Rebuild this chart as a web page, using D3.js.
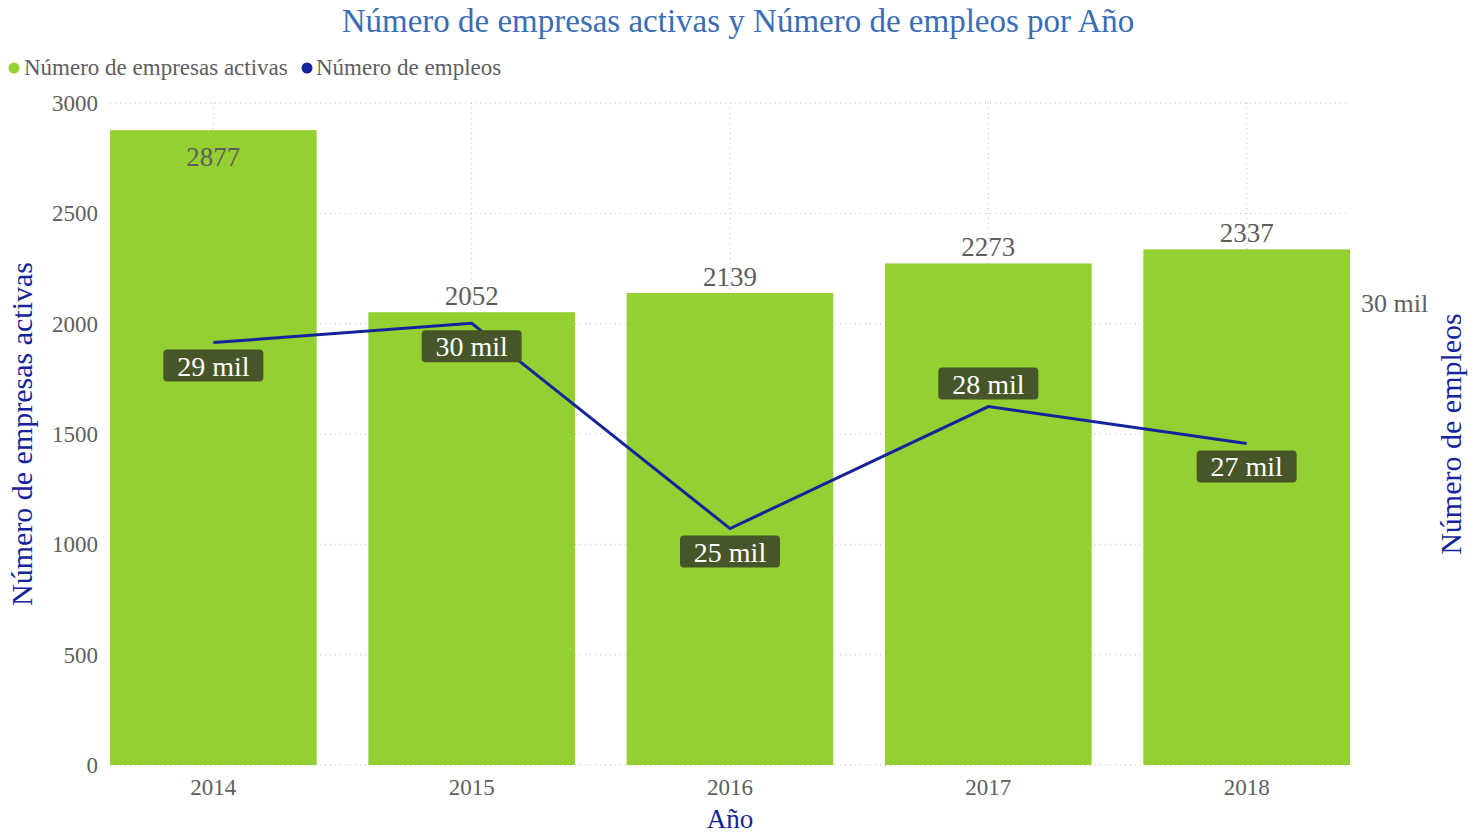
<!DOCTYPE html>
<html>
<head>
<meta charset="utf-8">
<script src="https://cdn.jsdelivr.net/npm/d3@7"></script>
<style>
  body { margin: 0; background: #fff; }
  svg text { font-family: "Liberation Serif", "DejaVu Serif", serif; }
</style>
</head>
<body>
<svg id="chart" width="1481" height="835"></svg>
<script>
// data
var years = ["2014", "2015", "2016", "2017", "2018"];
var empresas = [2877, 2052, 2139, 2273, 2337];
var empleos = [29130, 29560, 25000, 27710, 26890];
var leftTicks = [0, 500, 1000, 1500, 2000, 2500, 3000];
var rightTicks = [30000];

var svg = d3.select("#chart");
// plot box (window.top is taken, hence the names)
var pLeft = 110, pRight = 1350, pTop = 103, pBottom = 765;

var x = d3.scaleBand().domain(years).range([pLeft, pRight]).paddingInner(0.2).paddingOuter(0);
var y = d3.scaleLinear().domain([0, 3000]).range([pBottom, pTop]);
var y2 = d3.scaleLinear().domain([19750, 34450]).range([pBottom, pTop]);

var green = "#94d031", blue = "#15249d", grey = "#605e5c";
var milFmt = function(d){ return Math.round(d/1000) + " mil"; };

// title
svg.append("text").attr("x", 738).attr("y", 32).attr("text-anchor", "middle")
  .attr("font-size", 33).attr("fill", "#3a6db5")
  .text("Número de empresas activas y Número de empleos por Año");

// legend
var legend = [["Número de empresas activas", green, 14, 24], ["Número de empleos", blue, 307, 316]];
legend.forEach(function(l) {
  svg.append("circle").attr("cx", l[2]).attr("cy", 68).attr("r", 5.5).attr("fill", l[1]);
  svg.append("text").attr("x", l[3]).attr("y", 75).attr("font-size", 23).attr("fill", grey).text(l[0]);
});

// gridlines
svg.append("g").selectAll("line").data(leftTicks).join("line")
  .attr("x1", pLeft).attr("x2", pRight).attr("y1", function(d){ return y(d); }).attr("y2", function(d){ return y(d); })
  .attr("stroke", "#bdbdbd").attr("stroke-width", 1).attr("stroke-dasharray", "1,4");
svg.append("g").selectAll("line").data(years).join("line")
  .attr("x1", function(d){ return x(d) + x.bandwidth()/2; }).attr("x2", function(d){ return x(d) + x.bandwidth()/2; })
  .attr("y1", pTop).attr("y2", pBottom)
  .attr("stroke", "#bdbdbd").attr("stroke-width", 1).attr("stroke-dasharray", "1,4");

// left axis
var yAxis = d3.axisLeft(y).tickValues(leftTicks).tickSize(0).tickPadding(12).tickFormat(d3.format("d"));
var gy = svg.append("g").attr("transform", "translate(" + pLeft + ",0)").call(yAxis);
gy.select(".domain").remove();
gy.selectAll("text").attr("font-size", 23).attr("fill", grey).attr("font-family", "Liberation Serif");

// right axis
var yAxis2 = d3.axisRight(y2).tickValues(rightTicks).tickSize(0).tickPadding(11).tickFormat(milFmt);
var gy2 = svg.append("g").attr("transform", "translate(" + pRight + ",0)").call(yAxis2);
gy2.select(".domain").remove();
gy2.selectAll("text").attr("font-size", 26).attr("fill", grey).attr("font-family", "Liberation Serif");

// x axis
var xAxis = d3.axisBottom(x).tickSize(0).tickPadding(14);
var gx = svg.append("g").attr("transform", "translate(0," + pBottom + ")").call(xAxis);
gx.select(".domain").remove();
gx.selectAll("text").attr("font-size", 23).attr("fill", grey).attr("font-family", "Liberation Serif");

// axis titles
svg.append("text").attr("transform", "translate(32,434) rotate(-90)").attr("text-anchor", "middle")
  .attr("font-size", 30).attr("fill", blue).text("Número de empresas activas");
svg.append("text").attr("transform", "translate(1461,434) rotate(-90)").attr("text-anchor", "middle")
  .attr("font-size", 30).attr("fill", blue).text("Número de empleos");
svg.append("text").attr("x", 730).attr("y", 828).attr("text-anchor", "middle")
  .attr("font-size", 27).attr("fill", blue).text("Año");

// bars
svg.append("g").selectAll("rect").data(years).join("rect")
  .attr("x", function(d){ return x(d); })
  .attr("y", function(d, i){ return y(empresas[i]); })
  .attr("width", x.bandwidth())
  .attr("height", function(d, i){ return pBottom - y(empresas[i]); })
  .attr("fill", green);

// bar labels (inside when there is no room above)
svg.append("g").selectAll("text").data(years).join("text")
  .attr("x", function(d){ return x(d) + x.bandwidth()/2; })
  .attr("y", function(d, i){
    var t = y(empresas[i]);
    return t - pTop < 30 ? t + 36 : t - 7;
  })
  .attr("text-anchor", "middle").attr("font-size", 27).attr("fill", grey)
  .text(function(d, i){ return empresas[i]; });

// line
var line = d3.line()
  .x(function(d, i){ return x(years[i]) + x.bandwidth()/2; })
  .y(function(d){ return y2(d); });
svg.append("path").datum(empleos).attr("d", line)
  .attr("fill", "none").attr("stroke", blue).attr("stroke-width", 3);

// line labels
var lab = svg.append("g").selectAll("g").data(empleos).join("g")
  .attr("transform", function(d, i){
    var cx = x(years[i]) + x.bandwidth()/2;
    var above = i == 3;
    var by = above ? y2(d) - 7 - 32 : y2(d) + 7;
    return "translate(" + cx + "," + by + ")";
  });
lab.append("rect").attr("x", -50).attr("y", 0).attr("width", 100).attr("height", 32).attr("rx", 4)
  .attr("fill", "#475628");
lab.append("text").attr("x", 0).attr("y", 26).attr("text-anchor", "middle")
  .attr("font-size", 28).attr("fill", "#fff")
  .text(milFmt);
</script>
</body>
</html>
